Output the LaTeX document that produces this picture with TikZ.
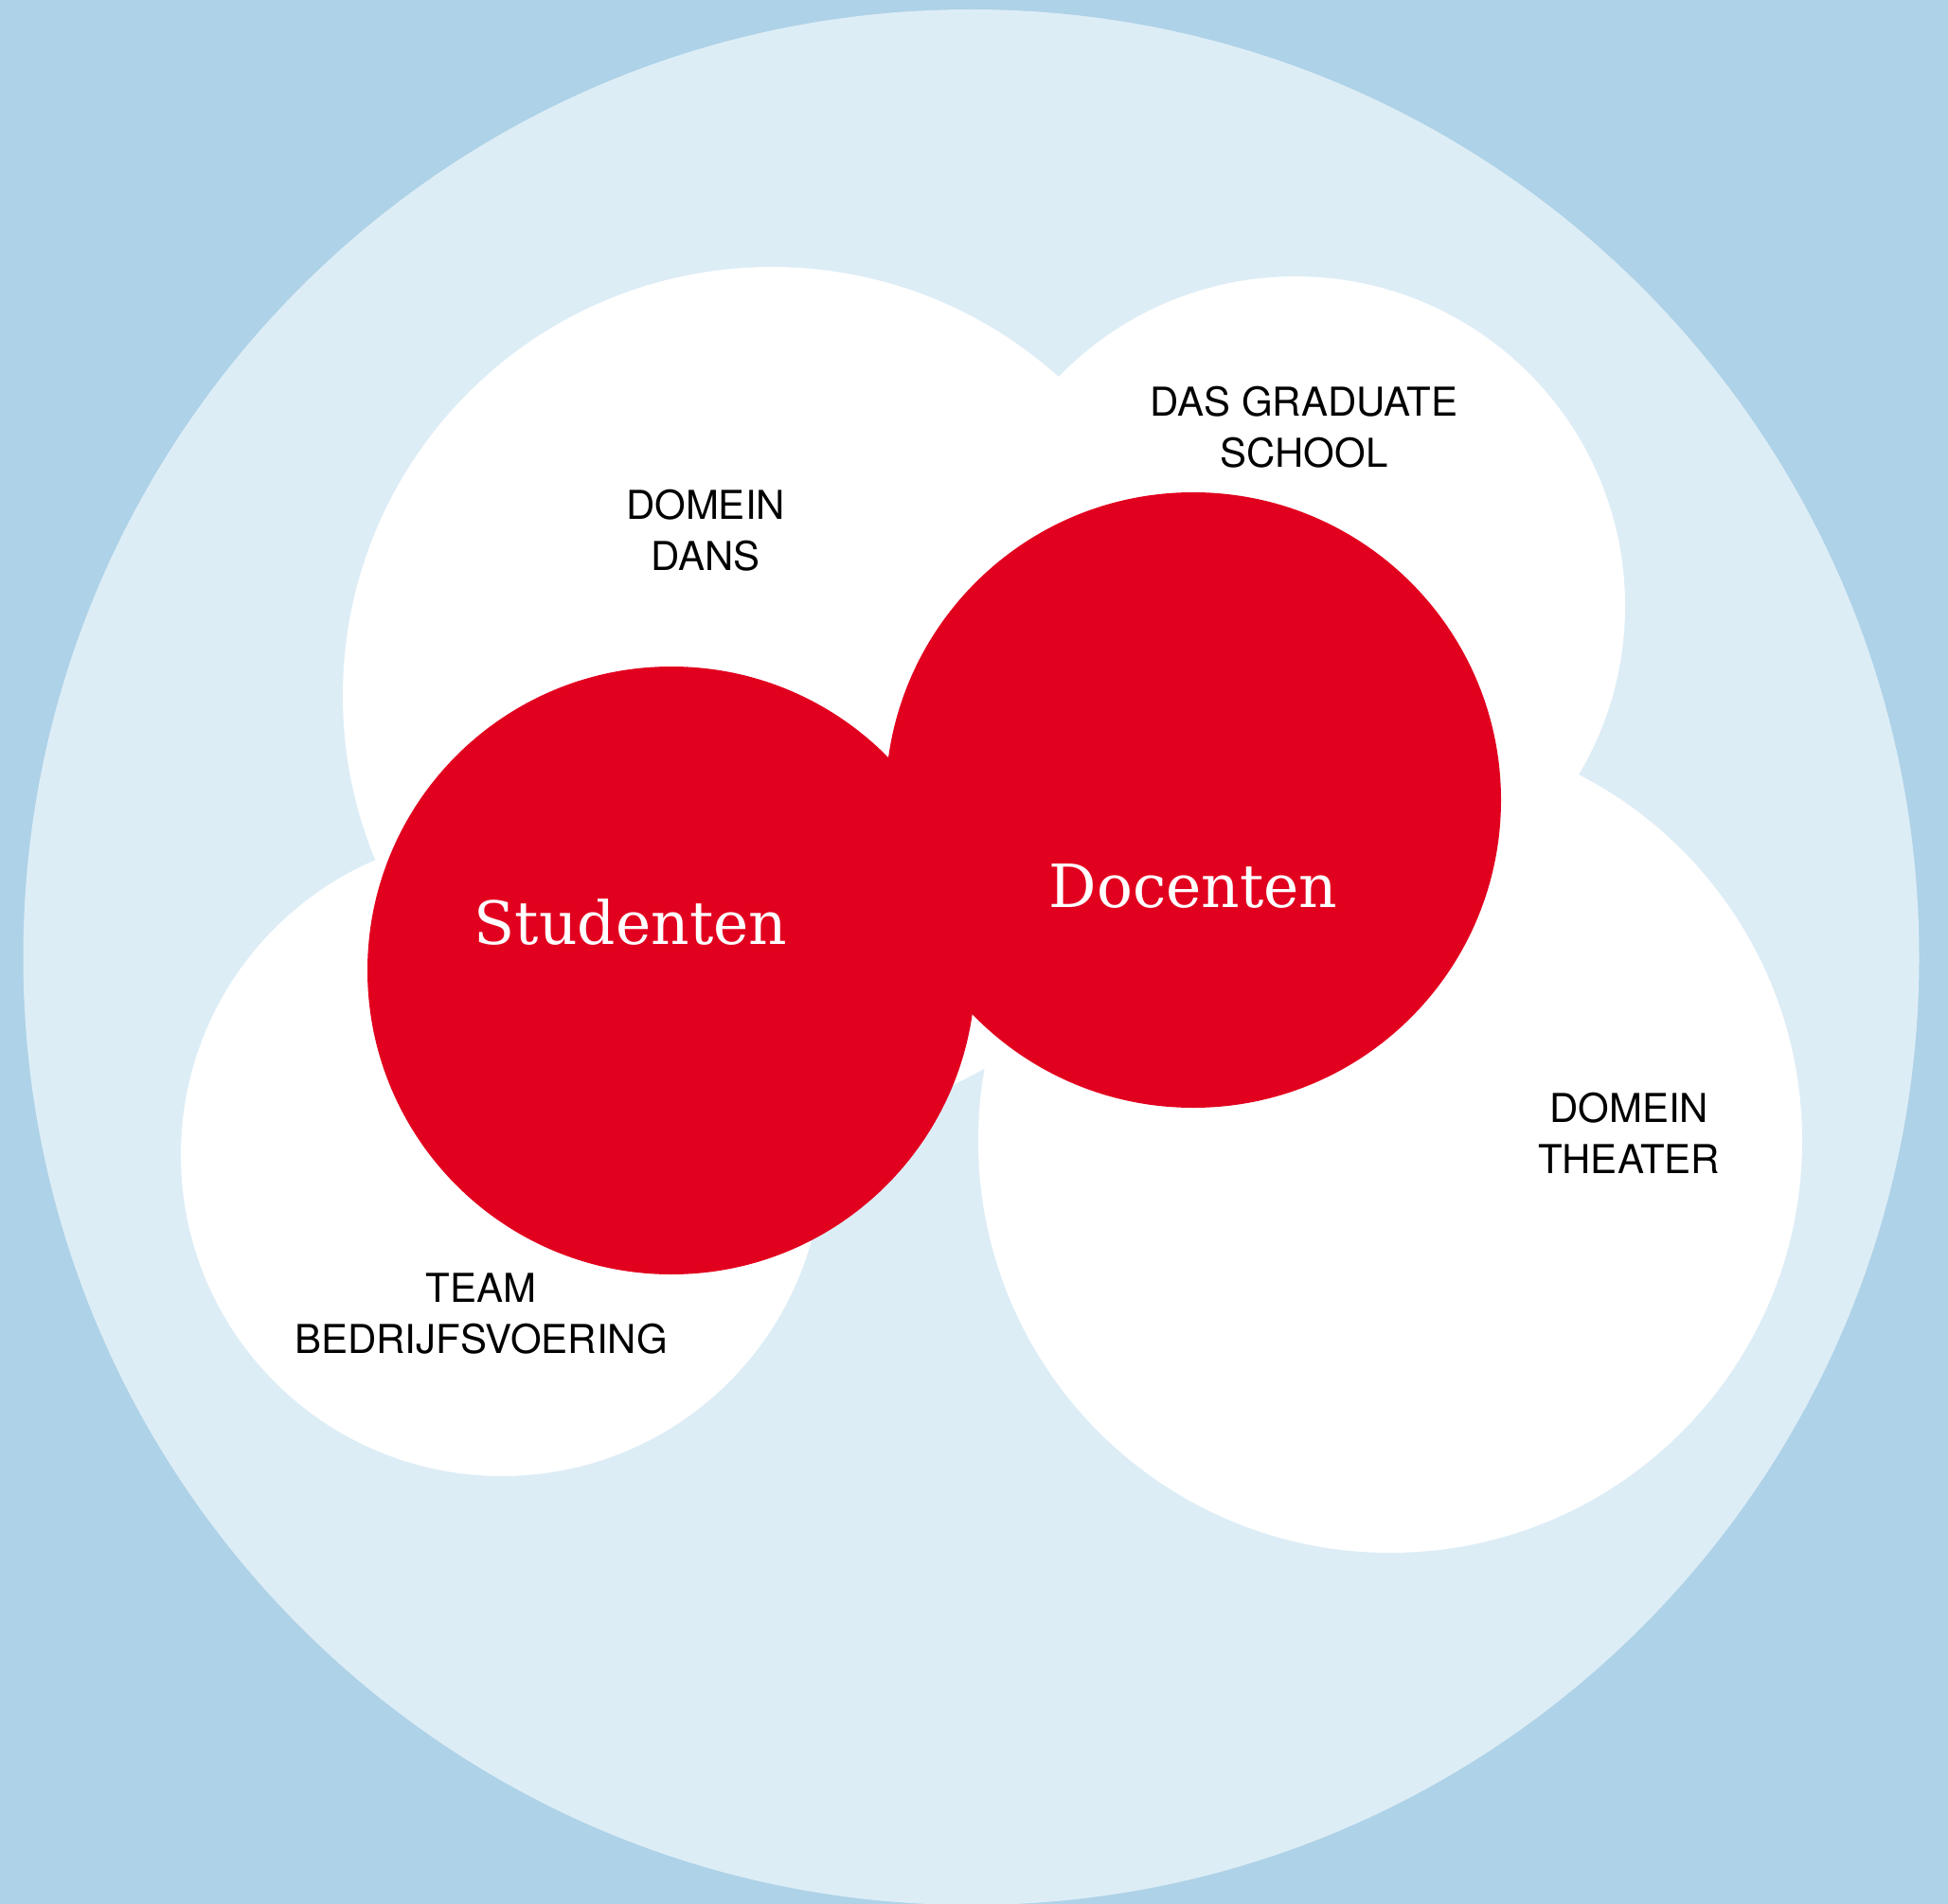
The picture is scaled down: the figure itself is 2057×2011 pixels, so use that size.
\documentclass[tikz,border=0pt]{standalone}
\usepackage{fontspec}
\setmainfont{TeX Gyre Heros}
\newfontfamily\slabfont{DejaVu Serif}
\definecolor{bgblue}{HTML}{AED2E7}
\definecolor{paleblue}{HTML}{DDEDF6}
\definecolor{dasred}{HTML}{E2001F}
\begin{document}
\begin{tikzpicture}[x=0.5pt,y=-0.5pt,
  unitlabel/.style={align=center,text=black,inner sep=0pt,
    font=\fontsize{21}{27}\selectfont},
  grouplabel/.style={text=white,inner sep=0pt,
    font=\slabfont\fontsize{31.5}{36}\selectfont}]
\fill[bgblue] (0,0) rectangle (2057,2011);
\useasboundingbox (0,0) rectangle (2057,2011);
% outer organisation
\fill[paleblue] (1025.5,1011) circle[radius=500.5pt];
% white units
\fill[white] (815,735) circle[radius=226.5pt];
\fill[white] (1368,640) circle[radius=174pt];
\fill[white] (1468,1205) circle[radius=217.5pt];
\fill[white] (530,1220) circle[radius=169.5pt];
% red groups
\fill[dasred] (709,1025) circle[radius=160.5pt];
\fill[dasred] (1260,845) circle[radius=162.5pt];
% labels
\node[unitlabel] (dans) at (745,560) {DOMEIN\\DANS};
\node[unitlabel] (grad) at (1377,451) {DAS GRADUATE\\SCHOOL};
\node[unitlabel] (theater) at (1720,1197) {DOMEIN\\THEATER};
\node[unitlabel] (team) at (508,1388) {TEAM\\BEDRIJFSVOERING};
\node[grouplabel] (stud) at (666,974) {Studenten};
\node[grouplabel] (doc) at (1260,936) {Docenten};
\end{tikzpicture}
\end{document}
